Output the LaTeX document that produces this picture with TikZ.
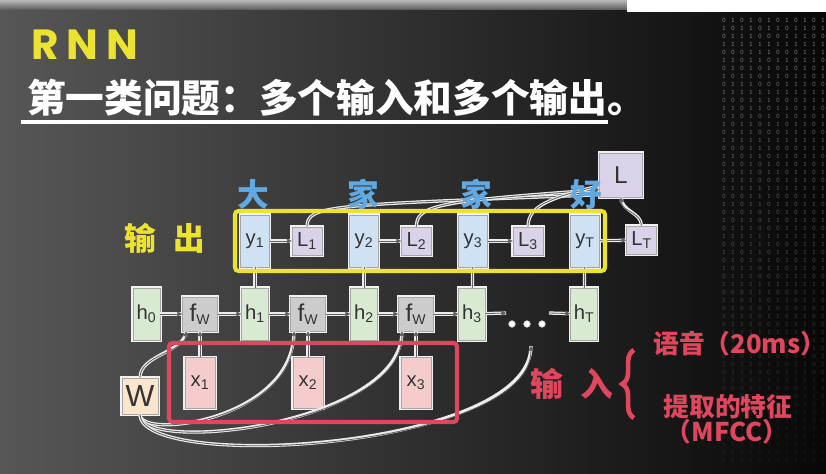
\documentclass[tikz,border=0pt]{standalone}
\usepackage{fontspec}
\setsansfont{Liberation Sans}
\newfontfamily\cjk{Noto Sans CJK SC}
\newfontfamily\headfont{Poppins}
\usepackage{xcolor}
\usetikzlibrary{arrows.meta,decorations.pathreplacing}

\definecolor{hgreen}{HTML}{D9EAD3}
\definecolor{fgray}{HTML}{CCCCCC}
\definecolor{xpink}{HTML}{F4CCCC}
\definecolor{yblue}{HTML}{CFE2F3}
\definecolor{lpurple}{HTML}{D9D2E9}
\definecolor{wpeach}{HTML}{FCE5CD}
\definecolor{slideyellow}{HTML}{ECE230}
\definecolor{slideblue}{HTML}{62A9E2}
\definecolor{slidered}{HTML}{E0475E}

\tikzset{
  box/.style={draw=gray!70, line width=0.8pt, preaction={draw=white!90!gray, line width=3.2pt},
    inner sep=1pt, text=black!80, font=\sffamily\LARGE},
  hbox/.style={box, fill=hgreen, minimum width=0.81cm, minimum height=1.56cm},
  fbox/.style={box, fill=fgray, minimum width=1.05cm, minimum height=1.02cm},
  xbox/.style={box, fill=xpink, minimum width=0.9cm, minimum height=1.53cm},
  ybox/.style={box, fill=yblue, minimum width=0.87cm, minimum height=1.56cm},
  lbox/.style={box, fill=lpurple, minimum width=0.9cm, minimum height=0.84cm},
  wbox/.style={box, fill=wpeach, minimum width=1.08cm, minimum height=1.08cm, font=\sffamily\fontsize{26}{26}\selectfont},
  link/.style={-{Triangle[length=4pt,width=4.5pt]}, draw=gray!75!black, line width=0.7pt,
    preaction={draw=white!85!gray, line width=2.8pt, -}},
  bar/.style={draw=gray!75!black, line width=0.7pt, preaction={draw=white!85!gray, line width=2.8pt}},
  bluechar/.style={text=slideblue, font=\cjk\bfseries\fontsize{27}{27}\selectfont},
  redtext/.style={text=slidered, inner sep=0pt, font=\cjk\bfseries\fontsize{22}{24}\selectfont},
  bitnode/.style={text=white, inner sep=0pt, font=\ttfamily\fontsize{6}{6}\selectfont},
}

\begin{document}
\begin{tikzpicture}[x=0.03cm, y=-0.03cm]
  % Background
  \useasboundingbox (0,0) rectangle (826,474);
  \shade[left color=black!66, middle color=black!87, right color=black!97] (0,0) rectangle (826,474);
  \shade[top color=black!28, bottom color=black!62] (0,0) rectangle (627,9);
  \fill[white] (627,0) rectangle (826,12);

  % Binary rain
  \foreach \c in {0,...,11}
    \foreach \r in {0,...,55} {
      \pgfmathtruncatemacro\bit{mod(\c*7+\r*3+int(\c*\r/3),2)}
      \pgfmathsetmacro\op{max(0.08,0.5-0.008*\r)}
      \node[bitnode, opacity=\op] (bit-\c-\r) at (724+9*\c, 20+8*\r) {\bit};
    }

  % Title
  \node[anchor=west, inner sep=0pt, text=slideyellow, font=\headfont\bfseries\fontsize{36}{36}\selectfont] (rnn) at (31,45) {R\hspace{7pt}N\hspace{7pt}N};
  \node[anchor=west, inner sep=0pt, text=white, font=\cjk\bfseries\fontsize{33}{33}\selectfont] (title) at (27,98) {第一类问题：多个输入和多个输出。};
  \draw[white, line width=3.5pt] (21,122) -- (608,122);

  % Hidden states
  \node[hbox] (h0) at (146.5,314) {h\textsubscript{0}};
  \node[fbox] (fW1) at (200,314) {{\huge f}\textsubscript{W}};
  \node[hbox] (h1) at (255,314) {h\textsubscript{1}};
  \node[fbox] (fW2) at (308,314) {{\huge f}\textsubscript{W}};
  \node[hbox] (h2) at (364,314) {h\textsubscript{2}};
  \node[fbox] (fW3) at (416,314) {{\huge f}\textsubscript{W}};
  \node[hbox] (h3) at (472,314) {h\textsubscript{3}};
  \node[hbox] (hT) at (584,314) {h\textsubscript{T}};

  % Dots
  \coordinate (dotsin) at (506,313);
  \coordinate (dotsout) at (549,313);
  \coordinate (dotsup) at (531,346);
  \foreach \dx in {512,527,542}
    \filldraw[fill=white, draw=white!60!gray, line width=0.6pt] (\dx,324) circle (2.8pt);

  % Inputs
  \node[xbox] (x1) at (200,383) {x\textsubscript{1}};
  \node[xbox] (x2) at (308,383) {x\textsubscript{2}};
  \node[xbox] (x3) at (416,383) {x\textsubscript{3}};
  \node[wbox] (W) at (140,396) {W};

  % Outputs
  \node[ybox] (y1) at (255,241) {y\textsubscript{1}};
  \node[ybox] (y2) at (364,241) {y\textsubscript{2}};
  \node[ybox] (y3) at (473,241) {y\textsubscript{3}};
  \node[ybox] (yT) at (585,241) {y\textsubscript{T}};
  \node[lbox] (L1) at (307,241) {L\textsubscript{1}};
  \node[lbox] (L2) at (416.5,241) {L\textsubscript{2}};
  \node[lbox] (L3) at (528,241) {L\textsubscript{3}};
  \node[lbox] (LT) at (641.5,240) {L\textsubscript{T}};
  \node[lbox, minimum width=1.29cm, minimum height=1.32cm, font=\sffamily\huge] (L) at (621,175) {L};

  % Recurrence
  \draw[link] (h0) -- (fW1);
  \draw[link] (fW1) -- (h1);
  \draw[link] (h1) -- (fW2);
  \draw[link] (fW2) -- (h2);
  \draw[link] (h2) -- (fW3);
  \draw[link] (fW3) -- (h3);
  \draw[link] (h3) -- (dotsin);
  \draw[link] (dotsout) -- (hT);

  % Inputs into f_W
  \draw[link] (x1) -- (fW1);
  \draw[link] (x2) -- (fW2);
  \draw[link] (x3) -- (fW3);

  % Shared weights
  \draw[link] (W.north) .. controls (140,355) and (185,352) .. ([xshift=-0.42cm]fW1.south);
  \draw[link] (W.south) .. controls (140,440) and (294,420) .. ([xshift=-0.42cm]fW2.south);
  \draw[link] (W.south) .. controls (140,455) and (402,425) .. ([xshift=-0.42cm]fW3.south);
  \draw[link] (W.south) .. controls (140,472) and (531,450) .. (dotsup);

  % States to outputs
  \draw[bar] (h1) -- (y1);
  \draw[bar] (h2) -- (y2);
  \draw[bar] (h3) -- (y3);
  \draw[bar] (hT) -- (yT);

  % Losses
  \draw[link] (y1) -- (L1);
  \draw[link] (y2) -- (L2);
  \draw[link] (y3) -- (L3);
  \draw[link] (yT) -- (LT);
  \draw[link] (L1.north) .. controls (307,205) and (330,205) .. (L.222);
  \draw[link] (L2.north) .. controls (416,205) and (440,201) .. (L.214);
  \draw[link] (L3.north) .. controls (528,206) and (550,198) .. (L.206);
  \draw[link] (LT.north) .. controls (641,212) and (622,212) .. (L.south);

  % Words
  \node[bluechar] (c1) at (253,194) {大};
  \node[bluechar] (c2) at (363,194) {家};
  \node[bluechar] (c3) at (476,194) {家};
  \node[bluechar] (c4) at (586,195) {好};
  \node[text=slideyellow, font=\cjk\bfseries\fontsize{27}{27}\selectfont] (outlabel) at (165,238) {输\hspace{0.55em}出};

  % Frames
  \draw[slideyellow, line width=3.5pt, rounded corners=3pt] (235,211) rectangle (605,271);
  \draw[slidered, line width=3.5pt, rounded corners=3pt] (169,343) rectangle (457,422);

  % Input description
  \node[text=slidered, font=\cjk\bfseries\fontsize{28}{28}\selectfont] (inlabel) at (572,384) {输\hspace{0.5em}入};
  \draw[slidered, line width=4pt, decorate, decoration={brace, amplitude=10pt}] (634,418) -- (634,350);
  \node[redtext, anchor=west] (speech) at (653,344) {语音（20ms）};
  \node[redtext] (feat) at (728,407) {提取的特征};
  \node[redtext] (mfcc) at (727,432) {（MFCC）};
\end{tikzpicture}
\end{document}
